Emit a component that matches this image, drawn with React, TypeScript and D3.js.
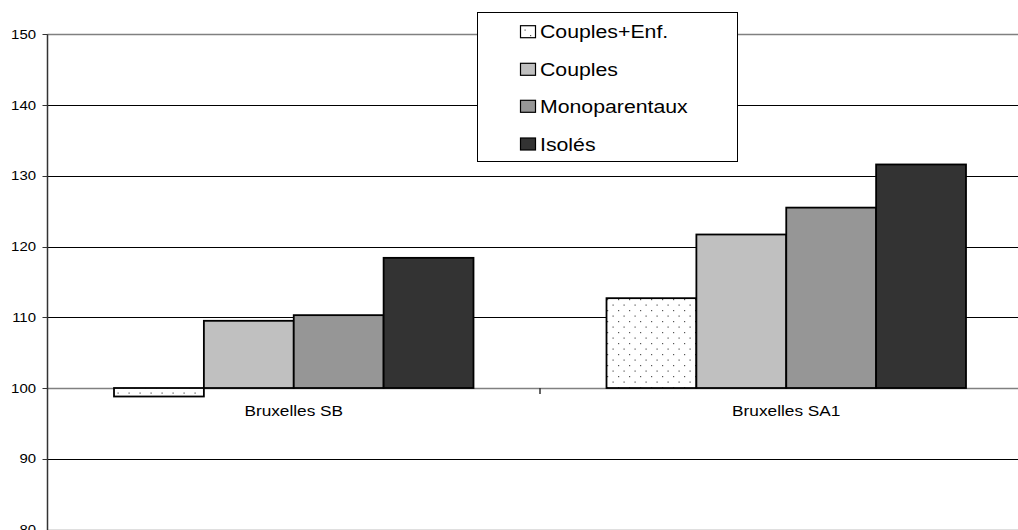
import React from "react";
import * as d3 from "d3";

const categories = ["Bruxelles SB", "Bruxelles SA1"];
const seriesNames = ["Couples+Enf.", "Couples", "Monoparentaux", "Isolés"];
const valuesSB = [98.8, 109.5, 110.3, 118.4];
const valuesSA1 = [112.7, 121.7, 125.5, 131.6];
const yTicks = [80, 90, 100, 110, 120, 130, 140, 150];

const fills = ["url(#dots)", "#c0c0c0", "#969696", "#333333"];
const W = 1018;
const H = 530;
const SX = 1.15;
const FONT = "'Liberation Sans', Arial, sans-serif";

export default function App() {
  const left = 47.5;
  const right = 1032.5;
  const y = d3.scaleLinear().domain([80, 150]).range([529.5, 34.3]);
  const x0 = d3.scaleBand<string>().domain(categories).range([left, right]).padding(0);
  const x1 = d3
    .scaleBand<string>()
    .domain(seriesNames)
    .range([0, x0.bandwidth()])
    .paddingInner(0)
    .paddingOuter(0.74);
  const data = [valuesSB, valuesSA1];
  const base = y(100);

  const gridColor = (t: number) => (t === 150 || t === 100 || t === 80 ? "#808080" : "#000");

  const legendX = 477.5;
  const legendY = 12.5;
  const rowCenters = [31.7, 69.3, 106.3, 144];

  return (
    <svg
      width={W}
      height={H}
      style={{ position: "absolute", left: 0, top: 0, display: "block", background: "#fff" }}
    >
      <defs>
        <pattern id="dots" patternUnits="userSpaceOnUse" width={11} height={11}>
          <rect width={11} height={11} fill="#fff" />
          <rect x={2} y={2} width={1.2} height={1.2} fill="#555" />
          <rect x={7.5} y={7.5} width={1.2} height={1.2} fill="#555" />
        </pattern>
      </defs>
      <rect width={W} height={H} fill="#fff" />
      {yTicks.map((t) => (
        <line
          key={t}
          x1={left}
          x2={W}
          y1={Math.round(y(t)) + 0.5}
          y2={Math.round(y(t)) + 0.5}
          stroke={gridColor(t)}
          strokeWidth={t === 100 || t === 150 || t === 80 ? 1.5 : 1}
        />
      ))}
      <line x1={left} x2={left} y1={y(150)} y2={H} stroke="#333" strokeWidth={1.5} />
      {yTicks.map((t) => (
        <g key={"t" + t}>
          <line x1={left - 5} x2={left} y1={Math.round(y(t)) + 0.5} y2={Math.round(y(t)) + 0.5} stroke="#333" />
          <text
            transform={`translate(${36},${y(t) + 4.6}) scale(${SX},1)`}
            textAnchor="end"
            fontFamily={FONT}
            fontSize={13}
            fill="#000"
          >
            {t}
          </text>
        </g>
      ))}
      <line x1={x0(categories[1])!} x2={x0(categories[1])!} y1={base} y2={base + 6} stroke="#333" strokeWidth={1.5} />
      {categories.map((c, ci) => (
        <g key={c}>
          {seriesNames.map((s, si) => {
            const v = data[ci][si];
            const bx = x0(c)! + x1(s)!;
            const top = Math.min(y(v), base);
            const h = Math.abs(y(v) - base);
            return (
              <rect
                key={s}
                x={bx}
                y={top}
                width={x1.bandwidth()}
                height={h}
                fill={fills[si]}
                stroke="#000"
                strokeWidth={1.8}
              />
            );
          })}
          <text
            transform={`translate(${x0(c)! + x0.bandwidth() / 2},${416}) scale(${SX},1)`}
            textAnchor="middle"
            fontFamily={FONT}
            fontSize={15}
            fill="#000"
          >
            {c}
          </text>
        </g>
      ))}
      <rect x={legendX} y={legendY} width={260} height={149} fill="#fff" stroke="#000" strokeWidth={1} />
      {seriesNames.map((s, i) => (
        <g key={"l" + s}>
          <rect
            x={520.5}
            y={rowCenters[i] - 6}
            width={15}
            height={12}
            fill={fills[i]}
            stroke="#000"
            strokeWidth={1.2}
          />
          <text
            transform={`translate(${540},${rowCenters[i] + 6.6}) scale(${SX},1)`}
            fontFamily={FONT}
            fontSize={18.5}
            fill="#000"
          >
            {s}
          </text>
        </g>
      ))}
    </svg>
  );
}
